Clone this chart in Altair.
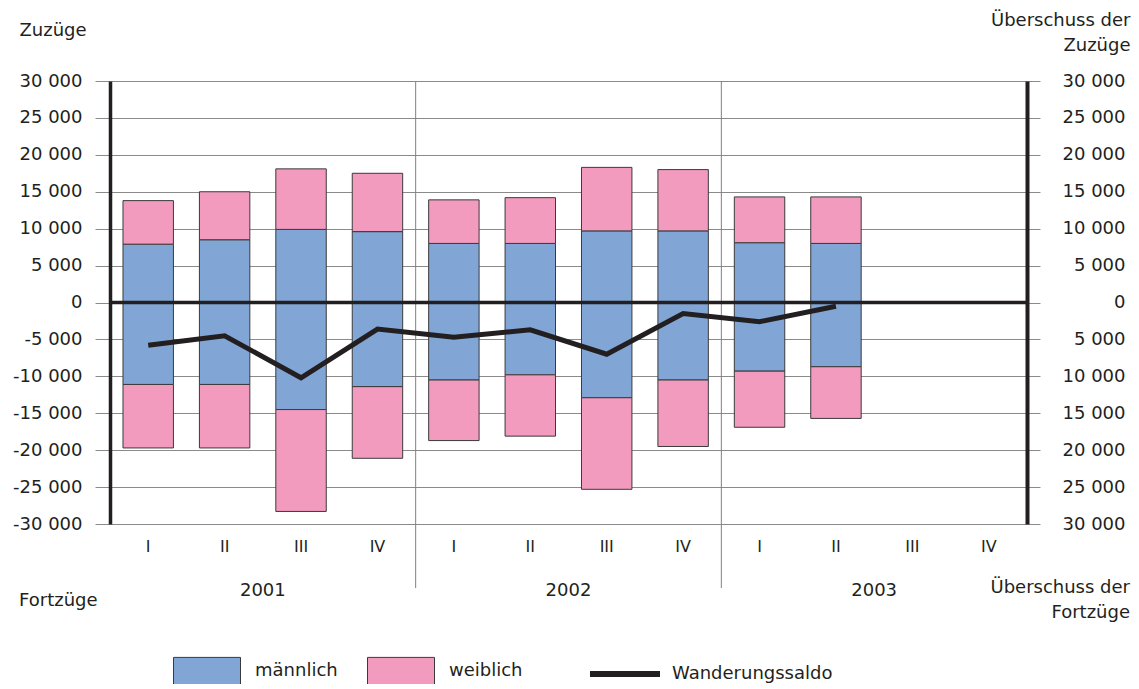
import altair as alt
import pandas as pd

# ---- data ----
years = ["2001", "2002", "2003"]
quarter_names = ["I", "II", "III", "IV"]
quarter_keys = [f"{y} {q}" for y in years for q in quarter_names]

# values for the first 10 quarters (2001 I ... 2003 II)
zuzuege_maennlich = [7900, 8500, 9900, 9600, 8000, 8000, 9700, 9700, 8100, 8000]
zuzuege_weiblich = [5900, 6500, 8200, 7900, 5900, 6200, 8600, 8300, 6200, 6300]
fortzuege_maennlich = [11100, 11100, 14500, 11400, 10500, 9800, 12900, 10500, 9300, 8700]
fortzuege_weiblich = [8600, 8600, 13800, 9700, 8200, 8300, 12400, 9000, 7600, 7000]
wanderungssaldo = [-5800, -4500, -10200, -3600, -4700, -3700, -7000, -1500, -2600, -500]

y_ticks = list(range(-30000, 30001, 5000))

# ---- styling ----
FONT = "DejaVu Sans"
FS = 18
TXT = "#231f20"
BLUE = "#81a6d6"
PINK = "#f39bbe"
W, H = 917, 443

rows = []
for i in range(len(wanderungssaldo)):
    k = quarter_keys[i]
    rows.append({"q": k, "g": "männlich", "ord": 0, "v": zuzuege_maennlich[i]})
    rows.append({"q": k, "g": "weiblich", "ord": 1, "v": zuzuege_weiblich[i]})
    rows.append({"q": k, "g": "männlich", "ord": 0, "v": -fortzuege_maennlich[i]})
    rows.append({"q": k, "g": "weiblich", "ord": 1, "v": -fortzuege_weiblich[i]})
bars_df = pd.DataFrame(rows)
line_df = pd.DataFrame({"q": quarter_keys[:len(wanderungssaldo)], "s": wanderungssaldo,
                        "serie": ["Wanderungssaldo"] * len(wanderungssaldo)})

xscale = alt.Scale(domain=quarter_keys, paddingInner=0, paddingOuter=0)
yscale = alt.Scale(domain=[-30000, 30000], nice=False, zero=False)

left_label = "(datum.value < 0 ? '-' : '') + replace(format(abs(datum.value), ','), ',', ' ')"
right_label = "replace(format(abs(datum.value), ','), ',', ' ')"

bars = alt.Chart(bars_df).mark_bar(
    width=alt.RelativeBandSize(0.66), stroke="#3a3a3a", strokeWidth=1
).encode(
    x=alt.X("q:N", scale=xscale, sort=quarter_keys, title=None,
            axis=alt.Axis(labelExpr="split(datum.value, ' ')[1]", domain=False, ticks=False,
                          grid=False, labelAngle=0, labelPadding=14, labelFont=FONT,
                          labelFontSize=16, labelColor=TXT)),
    y=alt.Y("v:Q", stack="zero", scale=yscale,
            axis=alt.Axis(orient="left", values=y_ticks, labelExpr=left_label,
                          domain=True, domainColor=TXT, domainWidth=3.5,
                          ticks=True, tickSize=15, tickColor="#8a8a8a", tickWidth=1,
                          grid=True, gridColor="#8a8a8a", gridWidth=1,
                          labelFont=FONT, labelFontSize=FS, labelColor=TXT, labelPadding=13,
                          title="Zuzüge", titleAngle=0, titleAlign="left", titleBaseline="middle",
                          titleX=-91, titleY=-51, titleFont=FONT, titleFontSize=FS,
                          titleFontWeight="normal", titleColor=TXT)),
    fill=alt.Fill("g:N", scale=alt.Scale(domain=["männlich", "weiblich"], range=[BLUE, PINK]),
                  legend=alt.Legend(orient="none", legendX=63, legendY=556, direction="horizontal",
                                    title=None, symbolType="M-1,-0.42H1V0.42H-1Z", symbolSize=4489,
                                    symbolStrokeColor="#3a3a3a", symbolStrokeWidth=1,
                                    labelFont=FONT, labelFontSize=FS, labelColor=TXT,
                                    labelOffset=14, columnPadding=27, padding=0, labelLimit=400)),
    order=alt.Order("ord:Q"),
)

sep_df = pd.DataFrame({"q": ["2002 I", "2003 I"]})
separators = alt.Chart(sep_df).mark_rule(color="#808080", strokeWidth=1).encode(
    x=alt.X("q:N", scale=xscale, bandPosition=0, axis=None),
    y=alt.value(0), y2=alt.value(507),
)

zero_df = pd.DataFrame({"z": [0]})
zero_rule = alt.Chart(zero_df).mark_rule(color=TXT, strokeWidth=3.5).encode(
    y=alt.Y("z:Q", scale=yscale, axis=None)
)

line = alt.Chart(line_df).mark_line(strokeWidth=5).encode(
    x=alt.X("q:N", scale=xscale, axis=None),
    y=alt.Y("s:Q", scale=yscale,
            axis=alt.Axis(orient="right", values=y_ticks, labelExpr=right_label,
                          domain=True, domainColor=TXT, domainWidth=4,
                          ticks=True, tickSize=13, tickColor="#8a8a8a", tickWidth=1,
                          grid=False, labelFont=FONT, labelFontSize=FS, labelColor=TXT,
                          labelAlign="right", labelPadding=85,
                          title=["Überschuss der", "Zuzüge"], titleAngle=0, titleAlign="right",
                          titleBaseline="middle", titleX=103, titleY=-61, titleLineHeight=25,
                          titleFont=FONT, titleFontSize=FS, titleFontWeight="normal",
                          titleColor=TXT)),
    stroke=alt.Stroke("serie:N", scale=alt.Scale(domain=["Wanderungssaldo"], range=[TXT]),
                      legend=alt.Legend(orient="none", legendX=477, legendY=555, title=None,
                                        symbolType="stroke", symbolSize=4900, symbolStrokeWidth=6,
                                        labelFont=FONT, labelFontSize=FS, labelColor=TXT,
                                        labelOffset=9, padding=0, labelLimit=400)),
)

year_df = pd.DataFrame({"q": ["2001 III", "2002 III", "2003 III"], "t": years})
year_text = alt.Chart(year_df).mark_text(font=FONT, fontSize=FS, color=TXT, baseline="middle").encode(
    x=alt.X("q:N", scale=xscale, bandPosition=0, axis=None),
    y=alt.value(510),
    text="t:N",
)

fort_df = pd.DataFrame({"t": ["Fortzüge"]})
fort_text = alt.Chart(fort_df).mark_text(font=FONT, fontSize=FS, color=TXT, align="left",
                                         baseline="middle").encode(
    x=alt.value(-91), y=alt.value(520), text="t:N")

ueb_df = pd.DataFrame({"t": ["Überschuss der\nFortzüge"]})
ueb_text = alt.Chart(ueb_df).mark_text(font=FONT, fontSize=FS, color=TXT, align="right",
                                       baseline="middle", lineBreak="\n", lineHeight=25).encode(
    x=alt.value(1020), y=alt.value(507), text="t:N")

chart = alt.layer(
    bars, separators, zero_rule, line, year_text, fort_text, ueb_text
).resolve_scale(y="shared", x="shared").resolve_axis(y="independent", x="independent").properties(
    width=W, height=H, autosize="none",
    padding={"left": 102, "top": 73, "right": 104, "bottom": 160},
).configure_view(stroke=None).configure(background="white")

chart.save("out.html", embed_options={"renderer": "svg", "actions": False})
